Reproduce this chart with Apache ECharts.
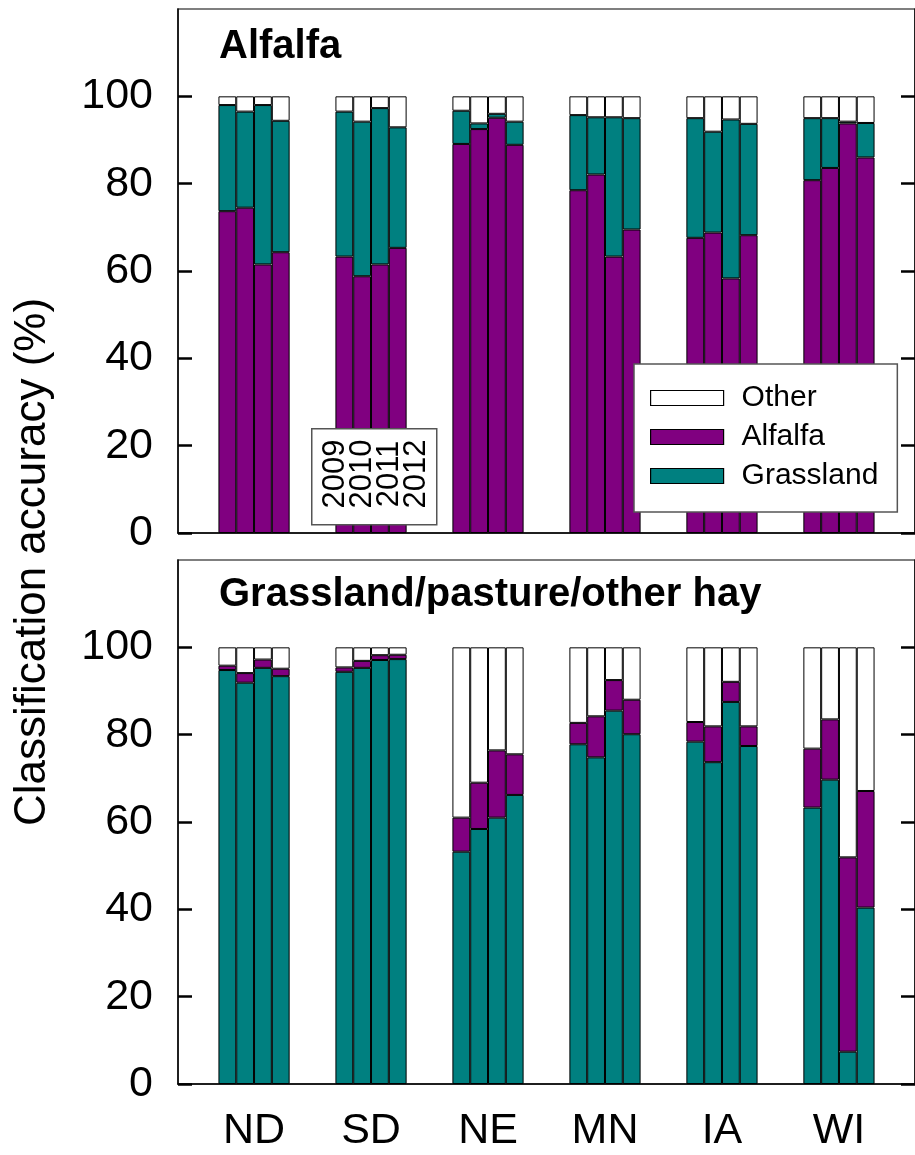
<!DOCTYPE html>
<html>
<head>
<meta charset="utf-8">
<script src="https://cdn.jsdelivr.net/npm/echarts@6/dist/echarts.min.js"></script>
<style>
  html, body { margin: 0; padding: 0; background: #fff; }
  #chart { width: 915px; height: 1155px; }
</style>
</head>
<body>
<div id="chart"></div>
<script>
// States (groups along the x axis) and the four mapping years inside each group
const states = ['ND', 'SD', 'NE', 'MN', 'IA', 'WI'];
const years = ['2009', '2010', '2011', '2012'];
const yTicks = [0, 20, 40, 60, 80, 100];

// Alfalfa reference pixels: share (%) classified as each class, [state][year]
const alfAlfalfa = [[73.7, 74.5, 61.5, 64.3], [63.3, 58.8, 61.5, 65.3], [89.1, 92.5, 95.1, 88.9],
                    [78.5, 82.1, 63.3, 69.5], [67.6, 68.8, 58.3, 68.2], [80.8, 83.6, 93.8, 86.0]];
const alfGrassland = [[24.3, 22.0, 36.5, 30.1], [33.2, 35.4, 35.8, 27.6], [7.6, 1.3, 0.9, 5.3],
                      [17.2, 13.1, 31.9, 25.5], [27.4, 23.1, 36.4, 25.5], [14.2, 11.4, 0.4, 7.9]];
const alfOther = [[2.0, 3.5, 2.0, 5.6], [3.5, 5.8, 2.7, 7.1], [3.3, 6.2, 4.0, 5.8],
                  [4.3, 4.8, 4.8, 5.0], [5.0, 8.1, 5.3, 6.3], [5.0, 5.0, 5.8, 6.1]];

// Grassland/pasture/other hay reference pixels, [state][year]
const grsGrassland = [[94.8, 91.9, 95.3, 93.4], [94.4, 95.3, 97.1, 97.3], [53.2, 58.4, 61.0, 66.2],
                      [77.8, 74.8, 85.5, 80.1], [78.4, 73.7, 87.5, 77.4], [63.3, 69.7, 7.4, 40.4]];
const grsAlfalfa = [[1.0, 2.2, 1.9, 1.7], [1.0, 1.6, 1.1, 1.0], [7.8, 10.6, 15.4, 9.3],
                    [4.9, 9.4, 7.0, 7.9], [4.5, 8.2, 4.6, 4.5], [13.5, 13.8, 44.5, 26.7]];
const grsOther = [[4.2, 5.9, 2.8, 4.9], [4.6, 3.1, 1.8, 1.7], [39.0, 31.0, 23.6, 24.5],
                  [17.3, 15.8, 7.5, 12.0], [17.1, 18.1, 7.9, 18.1], [23.2, 16.5, 48.1, 32.9]];

const FONT = "'Liberation Sans', Arial, sans-serif";
const COLORS = { Grassland: '#008080', Alfalfa: '#800080', Other: '#ffffff' };

const chart = echarts.init(document.getElementById('chart'), null, { renderer: 'canvas' });

// Stacking order, bottom to top, for each panel
const panels = [
  { stackOrder: [['Alfalfa', alfAlfalfa], ['Grassland', alfGrassland], ['Other', alfOther]] },
  { stackOrder: [['Grassland', grsGrassland], ['Alfalfa', grsAlfalfa], ['Other', grsOther]] }
];

// Each data item is [percentage, state position]; the percentage column comes
// first so that it is the dimension the stack accumulates.
const series = [];
panels.forEach((panel, p) => {
  years.forEach((yr, y) => {
    panel.stackOrder.forEach(([name, arr]) => {
      series.push({
        type: 'bar',
        name: name,
        xAxisIndex: p,
        yAxisIndex: p * 2,
        stack: 'p' + p + '-' + yr,
        barWidth: 17.8,
        barGap: '0%',
        encode: { x: 1, y: 0 },
        itemStyle: { color: COLORS[name], borderColor: '#000', borderWidth: 1 },
        emphasis: { disabled: true },
        data: states.map((s, i) => [arr[i][y], i])
      });
    });
  });
});

const gridTops = [9, 560];
const grids = gridTops.map(t => ({
  left: 178, top: t, width: 747, height: 524,
  show: true, borderColor: '#555', borderWidth: 1.5, backgroundColor: 'transparent'
}));

const xAxes = [0, 1].map(p => ({
  type: 'value', gridIndex: p, min: -0.65, max: 5.65,
  axisLine: { show: true, onZero: false, lineStyle: { color: '#000', width: 1.5 } },
  axisTick: { show: false },
  splitLine: { show: false },
  axisLabel: p === 1 ? {
    show: true, customValues: [0, 1, 2, 3, 4, 5],
    formatter: v => states[Math.round(v)] || '',
    fontSize: 43, color: '#000', fontFamily: FONT, margin: 26
  } : { show: false }
}));

const yAxes = [];
[0, 1].forEach(p => {
  ['left', 'right'].forEach(side => {
    yAxes.push({
      type: 'value', gridIndex: p, position: side, min: 0, max: 120, interval: 20,
      axisLine: { show: true, onZero: false, lineStyle: { color: '#000', width: 1.5 } },
      axisTick: { show: true, inside: true, length: 14, customValues: yTicks,
                  lineStyle: { color: '#000', width: 2.5 } },
      splitLine: { show: false },
      axisLabel: side === 'left' ? {
        show: true, customValues: yTicks,
        formatter: v => (v <= 100 ? String(v) : ''),
        fontSize: 43, color: '#000', fontFamily: FONT, margin: 25
      } : { show: false }
    });
  });
});

// Year key: one rotated label per bar position
const yearTextX = [335, 362, 389, 416];
const yearKey = [{
  type: 'rect', left: 311, top: 428,
  shape: { width: 125, height: 96 },
  style: { fill: '#fff', stroke: '#555', lineWidth: 1.5 }, z: 20
}].concat(years.map((yr, i) => ({
  type: 'text', x: yearTextX[i], y: 474, rotation: Math.PI / 2, z: 21,
  style: { text: yr, fontSize: 31, fontFamily: FONT, fill: '#000', align: 'center', verticalAlign: 'middle' }
})));

chart.setOption({
  backgroundColor: '#fff',
  animation: false,
  grid: grids,
  xAxis: xAxes,
  yAxis: yAxes,
  legend: {
    left: 634, top: 364, orient: 'vertical',
    backgroundColor: '#fff', borderColor: '#555', borderWidth: 1.5,
    padding: [19, 19, 21, 16], itemGap: 9,
    itemWidth: 73, itemHeight: 15, icon: 'rect',
    selectedMode: false,
    textStyle: { fontSize: 30, color: '#000', fontFamily: FONT, padding: [0, 0, 0, 13] },
    data: [
      { name: 'Other', itemStyle: { color: '#fff', borderColor: '#000', borderWidth: 1.2 } },
      { name: 'Alfalfa', itemStyle: { color: '#800080', borderColor: '#000', borderWidth: 1.2 } },
      { name: 'Grassland', itemStyle: { color: '#008080', borderColor: '#000', borderWidth: 1.2 } }
    ],
    z: 20
  },
  graphic: [
    { type: 'text', x: 219, y: 47, z: 10,
      style: { text: 'Alfalfa', fontSize: 40, fontWeight: 'bold', fontFamily: FONT, fill: '#000', verticalAlign: 'middle' } },
    { type: 'text', x: 219, y: 595, z: 10,
      style: { text: 'Grassland/pasture/other hay', fontSize: 40, fontWeight: 'bold', fontFamily: FONT, fill: '#000', verticalAlign: 'middle' } },
    { type: 'text', x: 33, y: 562, rotation: Math.PI / 2, z: 10,
      style: { text: 'Classification accuracy (%)', fontSize: 44, fontFamily: FONT, fill: '#000', align: 'center', verticalAlign: 'middle' } }
  ].concat(yearKey),
  series: series
});
</script>
</body>
</html>
